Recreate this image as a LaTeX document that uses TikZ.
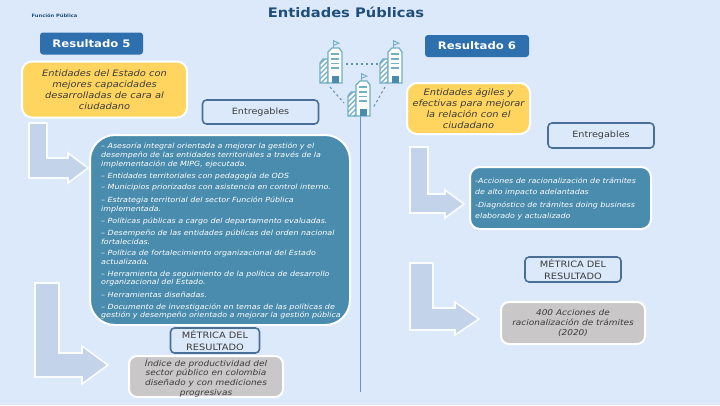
\documentclass[tikz,border=0pt]{standalone}
\usepackage{fontspec}
\setmainfont[FakeStretch=1.12]{DejaVu Sans}
\definecolor{bgc}{HTML}{DCE9FB}
\definecolor{navy}{HTML}{1F4E79}
\definecolor{resb}{HTML}{2E6FAE}
\definecolor{yel}{HTML}{FFD55F}
\definecolor{edge}{HTML}{4A6F96}
\definecolor{teal}{HTML}{4A8CAD}
\definecolor{greyb}{HTML}{C9C7C8}
\definecolor{arr}{HTML}{C3D3E9}
\definecolor{txt}{HTML}{3B3B3B}
\definecolor{ico}{HTML}{72AEC4}
\definecolor{vline}{HTML}{6C93B8}
\tikzset{
  x=1pt,y=-1pt,
  resbox/.style={draw=none,fill=resb,rounded corners=3pt,text=white,font=\bfseries\fontsize{10.4}{12}\selectfont,inner sep=0pt,anchor=center},
  card/.style={draw=white,line width=2pt,inner sep=0pt,anchor=center,align=center},
  yelcard/.style={card,fill=yel,rounded corners=10pt,text=txt,font=\itshape\fontsize{8.8}{10.9}\selectfont},
  greycard/.style={card,fill=greyb,rounded corners=8pt,text=txt,font=\itshape\fontsize{8}{9.8}\selectfont},
  tealcard/.style={card,fill=teal,text=white},
  outl/.style={draw=edge,line width=1.6pt,rounded corners=4pt,fill=bgc,inner sep=0pt,anchor=center,align=center,text=txt},
  arrowshape/.style={fill=arr,draw=white!85!bgc,line width=1.6pt,line join=miter},
  lbl/.style={inner sep=0pt,anchor=west,text=white,font=\itshape\fontsize{7.08}{8}\selectfont},
  lblr/.style={lbl,font=\itshape\fontsize{7.09}{8}\selectfont},
  link/.style={draw=ico!85!black,line width=1.1pt,dash pattern=on 2.4pt off 2.6pt},
  pics/bldg/.style={code={
    \draw[ico,line width=1pt] (13,9) -- (13,0);
    \fill[ico] (13,0) -- (20,3.2) -- (13,6) -- cycle;
    \fill[bgc] (14,1.8) -- (17.5,3.2) -- (14,4.4) -- cycle;
    \fill[white] (0,43) -- (8,43) -- (8,19) -- (3,19) -- (0,23) -- cycle;
    \begin{scope}
      \clip (0,43) -- (8,43) -- (8,19) -- (3,19) -- (0,23) -- cycle;
      \foreach \yy in {24,29,34,39,44,49}{\draw[ico,line width=1.3pt] (0,\yy) -- (8,\yy-8);}
    \end{scope}
    \draw[ico,line width=1.3pt] (0,43) -- (8,43) -- (8,19) -- (3,19) -- (0,23) -- cycle;
    \draw[ico,line width=1.3pt,fill=white] (8,12) -- (8,43) -- (22,43) -- (22,12) -- (19,8) -- (12,8) -- cycle;
    \foreach \yy in {14,19,23.5,28}{\draw[ico,line width=1.1pt] (11,\yy) -- (19,\yy);}
    \fill[teal] (12,35.5) rectangle (19,43);
  }}
}
\begin{document}
\begin{tikzpicture}
\useasboundingbox (0,0) rectangle (720,405);
\fill[bgc] (0,0) rectangle (720,405);

% arrows
\draw[arrowshape] (29,123)--(47,123)--(47,158)--(68,158)--(68,153)--(88,168)--(68,183)--(68,178)--(29,178)--cycle;
\draw[arrowshape] (35,283)--(59,283)--(59,353)--(82,353)--(82,346)--(108,365)--(82,384)--(82,377)--(35,377)--cycle;
\draw[arrowshape] (410,147)--(428,147)--(428,194)--(445,194)--(445,190)--(464,204)--(445,218)--(445,213)--(410,213)--cycle;
\draw[arrowshape] (410,263)--(433,263)--(433,308)--(455,308)--(455,302)--(479,319)--(455,335)--(455,330)--(410,330)--cycle;

% title
\node[inner sep=0pt,text=navy,font=\bfseries\fontsize{13.1}{14}\selectfont] (title) at (346,12.5) {Entidades Públicas};
\node[inner sep=0pt,text=navy,font=\bfseries\fontsize{4.6}{5}\selectfont] (area) at (54.5,16) {Función Pública};

% buildings
\coordinate (l1) at (346,64);
\coordinate (l2) at (378,64);
\coordinate (l3) at (330,87);
\coordinate (l4) at (344,103);
\coordinate (l5) at (385,87);
\coordinate (l6) at (373,108);
\draw[link] (l1) -- (l2);
\draw[link] (l3) -- (l4);
\draw[link] (l5) -- (l6);
\coordinate (v1) at (360.5,113);
\coordinate (v2) at (360.5,392);
\draw[vline,line width=1pt] (v1) -- (v2);
\pic at (320,40) {bldg};
\pic at (380,40) {bldg};
\pic at (348,73) {bldg};

% left
\node[resbox,minimum width=103pt,minimum height=22pt] (r5) at (91.5,43.5) {Resultado 5};
\node[yelcard,minimum width=165pt,minimum height=56pt] (y5) at (104.5,89.5) {Entidades del Estado con\\mejores capacidades\\desarrolladas de cara al\\ciudadano};
\node[outl,minimum width=116pt,minimum height=24pt,font=\fontsize{8.6}{9}\selectfont] (e5) at (260.5,112) {Entregables};
\node[tealcard,rounded corners=25pt,minimum width=260pt,minimum height=190pt] (b5) at (220,230) {};
\node[lbl] (t1) at (101,146) {– Asesoría integral orientada a mejorar la gestión y el};
\node[lbl] (t2) at (101,155) {desempeño de las entidades territoriales a través de la};
\node[lbl] (t3) at (101,164) {implementación de MIPG, ejecutada.};
\node[lbl] (t4) at (101,176) {– Entidades territoriales con pedagogía de ODS};
\node[lbl] (t5) at (101,188) {– Municipios priorizados con asistencia en control interno.};
\node[lbl] (t6) at (101,200) {– Estrategia territorial del sector Función Pública};
\node[lbl] (t7) at (101,210) {implementada.};
\node[lbl] (t8) at (101,221) {– Políticas públicas a cargo del departamento evaluadas.};
\node[lbl] (t9) at (101,233) {– Desempeño de las entidades públicas del orden nacional};
\node[lbl] (t10) at (101,242) {fortalecidas.};
\node[lbl] (t11) at (101,253) {– Política de fortalecimiento organizacional del Estado};
\node[lbl] (t12) at (101,262) {actualizada.};
\node[lbl] (t13) at (101,274) {– Herramienta de seguimiento de la política de desarrollo};
\node[lbl] (t14) at (101,283) {organizacional del Estado.};
\node[lbl] (t15) at (101,295) {– Herramientas diseñadas.};
\node[lbl] (t16) at (101,307) {– Documento de investigación en temas de las políticas de};
\node[lbl] (t17) at (101,315.5) {gestión y desempeño orientado a mejorar la gestión pública};
\node[outl,font=\fontsize{8.75}{12.2}\selectfont,minimum width=89pt,minimum height=25pt] (m5) at (215,340.5) {MÉTRICA DEL\\RESULTADO};
\node[greycard,minimum width=154pt,minimum height=41pt] (g5) at (206,376.5) {};
\node[inner sep=0pt,align=center,text=txt,font=\itshape\fontsize{8}{9.8}\selectfont] (g5t) at (206,378) {Índice de productividad del\\sector público en colombia\\diseñado y con mediciones\\progresivas};

% right
\node[resbox,minimum width=104pt,minimum height=22pt] (r6) at (477,46) {Resultado 6};
\node[yelcard,minimum width=123pt,minimum height=51pt] (y6) at (468.5,108.5) {Entidades ágiles y\\efectivas para mejorar\\la relación con el\\ciudadano};
\node[outl,minimum width=106pt,minimum height=25pt,font=\fontsize{8.6}{9}\selectfont] (e6) at (601,135.5) {Entregables};
\node[tealcard,rounded corners=10pt,minimum width=181pt,minimum height=62pt] (b6) at (560.5,198) {};
\node[lblr] (u1) at (475,181) {-Acciones de racionalización de trámites};
\node[lblr] (u2) at (475,193) {de alto impacto adelantadas};
\node[lblr] (u3) at (475,205) {-Diagnóstico de trámites doing business};
\node[lblr] (u4) at (475,217) {elaborado y actualizado};
\node[outl,font=\fontsize{8.75}{12.2}\selectfont,minimum width=96pt,minimum height=25pt] (m6) at (573,269.5) {MÉTRICA DEL\\RESULTADO};
\node[greycard,minimum width=144pt,minimum height=42pt] (g6) at (573,323) {400 Acciones de\\racionalización de trámites\\(2020)};
\end{tikzpicture}
\end{document}
